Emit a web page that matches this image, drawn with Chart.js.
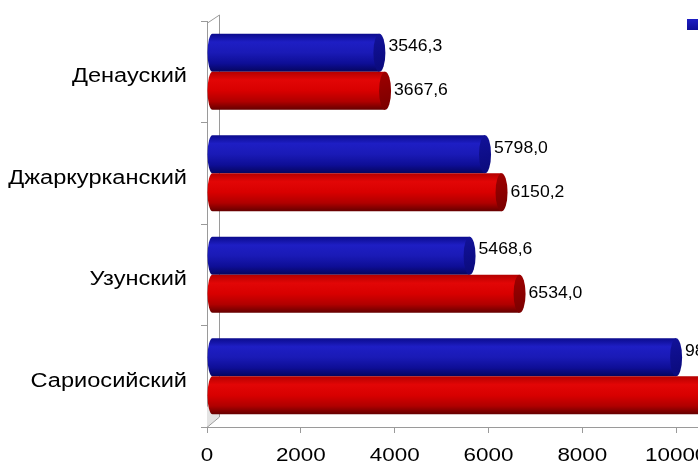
<!DOCTYPE html>
<html>
<head>
<meta charset="utf-8">
<script src="https://cdn.jsdelivr.net/npm/chart.js@4/dist/chart.umd.min.js"></script>
<style>
  html, body { margin: 0; padding: 0; background: #fff; overflow: hidden; }
  #wrap { width: 698px; height: 464px; overflow: hidden; position: relative; }
  canvas { display: block; }
</style>
</head>
<body>
<div id="wrap"><canvas id="c" width="900" height="464"></canvas></div>
<script>
// Районы и значения по двум рядам
const districts = ['Денауский', 'Джаркурканский', 'Узунский', 'Сариосийский'];
const seriesNames = ['Ряд1', 'Ряд2'];
const seriesBlue = [3546.3, 5798.0, 5468.6, 9870.4];
const seriesRed  = [3667.6, 6150.2, 6534.0, 10800.0];
const xTicks = [0, 2000, 4000, 6000, 8000, 10000, 12000];

const FONT = '"Liberation Sans", Arial, sans-serif';
const STRETCH = 1.18;   // горизонтально растянутый шрифт подписей

// Палитра цилиндров: градиент тела и цвет торца
const palettes = [
  { stops: ['#0b0b8c', '#1e1ec4', '#1a1ab6', '#0e0e96', '#05055e'], cap: ['#12129a', '#0a0a7a'], label: -6 },
  { stops: ['#b40000', '#e20606', '#d80000', '#b00000', '#640000'], cap: ['#a00000', '#780000'], label: 0 }
];

function fmt(v) { return v.toFixed(1).replace('.', ','); }

function stretchedText(ctx, text, x, y, align, size, sx) {
  ctx.save();
  ctx.translate(x, y);
  ctx.scale(sx, 1);
  ctx.fillStyle = '#000';
  ctx.font = size + 'px ' + FONT;
  ctx.textAlign = align;
  ctx.textBaseline = 'middle';
  ctx.fillText(text, 0, 0);
  ctx.restore();
}

// Цилиндры, подписи значений, подписи осей и легенда
const cylinderPlugin = {
  id: 'cylinders',
  beforeDatasetsDraw(chart) {
    const ctx = chart.ctx, a = chart.chartArea;
    ctx.save();
    // задняя стенка и пол
    ctx.fillStyle = '#e4e4e4';
    ctx.beginPath();
    ctx.moveTo(a.left, a.bottom);
    ctx.lineTo(a.left + 12, a.bottom - 10);
    ctx.lineTo(a.left + 12, a.bottom - 30);
    ctx.lineTo(a.left, a.bottom - 20);
    ctx.closePath();
    ctx.fill();
    ctx.strokeStyle = '#9a9a9a';
    ctx.lineWidth = 1;
    ctx.beginPath();
    ctx.moveTo(a.left + 12.5, a.top - 6);
    ctx.lineTo(a.left + 12.5, a.bottom - 10);
    ctx.moveTo(a.left + 0.5, a.top + 2);
    ctx.lineTo(a.left + 12.5, a.top - 6);
    ctx.moveTo(a.left + 0.5, a.bottom);
    ctx.lineTo(a.left + 12.5, a.bottom - 10);
    ctx.stroke();
    ctx.restore();
  },
  afterDatasetsDraw(chart) {
    const ctx = chart.ctx;
    chart.data.datasets.forEach((ds, di) => {
      const meta = chart.getDatasetMeta(di);
      const p = palettes[di];
      meta.data.forEach((el, i) => {
        const h = el.height, top = el.y - h / 2, bot = el.y + h / 2;
        const x0 = el.base, x1 = el.x;
        const rxL = 5, rxR = 6;
        ctx.save();
        const g = ctx.createLinearGradient(0, top, 0, bot);
        g.addColorStop(0, p.stops[0]);
        g.addColorStop(0.22, p.stops[1]);
        g.addColorStop(0.5, p.stops[2]);
        g.addColorStop(0.78, p.stops[3]);
        g.addColorStop(1, p.stops[4]);
        ctx.fillStyle = g;
        ctx.beginPath();
        ctx.moveTo(x0 + rxL, top);
        ctx.lineTo(x1 + rxR, top);
        ctx.lineTo(x1 + rxR, bot);
        ctx.lineTo(x0 + rxL, bot);
        ctx.ellipse(x0 + rxL, el.y, rxL, h / 2, 0, Math.PI / 2, Math.PI * 1.5);
        ctx.closePath();
        ctx.fill();
        // торец цилиндра
        const cg = ctx.createLinearGradient(x1, top, x1 + 2 * rxR, bot);
        cg.addColorStop(0, p.cap[0]);
        cg.addColorStop(1, p.cap[1]);
        ctx.fillStyle = cg;
        ctx.beginPath();
        ctx.ellipse(x1 + rxR, el.y, rxR, h / 2, 0, 0, Math.PI * 2);
        ctx.fill();
        ctx.restore();
        // подпись значения
        stretchedText(ctx, fmt(ds.data[i]), x1 + 15, el.y + p.label, 'left', 16, 1.1);
      });
    });
  },
  afterDraw(chart) {
    const ctx = chart.ctx, a = chart.chartArea;
    // подписи категорий
    const ys = chart.scales.y;
    districts.forEach((name, i) => {
      stretchedText(ctx, name, a.left - 20, ys.getPixelForValue(i) + 5, 'right', 20, STRETCH);
    });
    // подписи шкалы значений
    const xs = chart.scales.x;
    xTicks.forEach(v => {
      stretchedText(ctx, String(v), xs.getPixelForValue(v), a.bottom + 29, 'center', 19, STRETCH);
    });
    // легенда
    let lx = a.left + 480;
    chart.data.datasets.forEach((ds, di) => {
      const p = palettes[di];
      const g = ctx.createLinearGradient(0, 19, 0, 30);
      g.addColorStop(0, p.stops[1]);
      g.addColorStop(1, p.stops[3]);
      ctx.fillStyle = g;
      ctx.fillRect(lx, 19, 11, 11);
      stretchedText(ctx, ds.label, lx + 16, 25, 'left', 16, 1.1);
      lx += 70;
    });
  }
};

new Chart(document.getElementById('c'), {
  type: 'bar',
  data: {
    labels: districts,
    datasets: [
      { label: seriesNames[0], data: seriesBlue, backgroundColor: 'rgba(0,0,0,0)', categoryPercentage: 0.75, barPercentage: 1 },
      { label: seriesNames[1], data: seriesRed, backgroundColor: 'rgba(0,0,0,0)', categoryPercentage: 0.75, barPercentage: 1 }
    ]
  },
  options: {
    indexAxis: 'y',
    responsive: false,
    animation: false,
    events: [],
    layout: { padding: { top: 21, right: 130, left: 0, bottom: 0 } },
    plugins: { legend: { display: false }, tooltip: { enabled: false } },
    scales: {
      x: {
        min: xTicks[0],
        max: xTicks[xTicks.length - 1],
        afterBuildTicks(scale) { scale.ticks = xTicks.map(v => ({ value: v })); },
        afterFit(scale) { scale.height = 37; },
        grid: { display: true, drawOnChartArea: false, tickLength: 6, color: '#9a9a9a' },
        border: { display: true, color: '#9a9a9a' },
        ticks: { display: false }
      },
      y: {
        afterFit(scale) { scale.width = 207; },
        grid: { display: true, drawOnChartArea: false, tickLength: 6, color: '#9a9a9a', offset: true },
        border: { display: true, color: '#9a9a9a' },
        ticks: { display: false }
      }
    }
  },
  plugins: [cylinderPlugin]
});
</script>
</body>
</html>
